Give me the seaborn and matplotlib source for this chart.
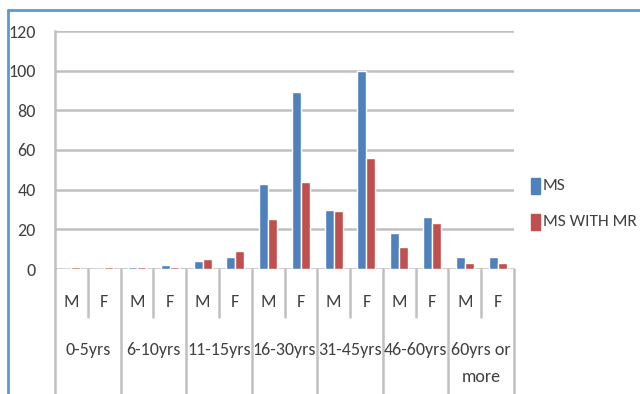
import matplotlib
matplotlib.use("Agg")
import matplotlib.pyplot as plt
from matplotlib import font_manager as fm
import seaborn as sns
import pandas as pd
from matplotlib.lines import Line2D
from matplotlib.patches import Rectangle

groups = ["0-5yrs", "6-10yrs", "11-15yrs", "16-30yrs", "31-45yrs", "46-60yrs", "60yrs or\nmore"]
sexes = ["M", "F"]
ms = [0, 0, 1, 2, 4, 6, 43, 89, 30, 100, 18, 26, 6, 6]
ms_mr = [1, 1, 1, 1, 5, 9, 25, 44, 29, 56, 11, 23, 3, 3]
series = ["MS", "MS WITH MR"]
colors = ["#4F81BD", "#C0504D"]
yticks = [0, 20, 40, 60, 80, 100, 120]

sns.set_style("white")
available = set(f.name for f in fm.fontManager.ttflist)
candidates = ["Carlito", "Liberation Sans Narrow", "Roboto Condensed", "Open Sans Condensed",
              "Arimo", "Liberation Sans"]
chosen = next((c for c in candidates if c in available), "DejaVu Sans")
plt.rcParams['font.family'] = [chosen, 'DejaVu Sans']
if chosen == "Carlito":
    FS_TICK, FS_LAB, FS_LEG = 13, 13, 12.5
else:
    FS_TICK, FS_LAB, FS_LEG = 12, 12, 11

slots = [f"{g}|{s}" for g in groups for s in sexes]
df = pd.DataFrame({
    "slot": slots * 2,
    "value": ms + ms_mr,
    "series": [series[0]] * len(slots) + [series[1]] * len(slots),
})

fig = plt.figure(figsize=(6.4, 3.94), dpi=100)
W, H = 640, 394
left, right, top, bottom = 55, 514, 31, 269
ax = fig.add_axes([left / W, 1 - bottom / H, (right - left) / W, (bottom - top) / H])

sns.barplot(data=df, x="slot", y="value", hue="series", order=slots, hue_order=series,
            palette=colors, width=0.55, saturation=1, ax=ax, legend=False, errorbar=None,
            zorder=3)

ax.set_ylim(0, 120)
ax.set_xlim(-0.5, len(slots) - 0.5)
ax.set_yticks(yticks)
ax.set_yticklabels([str(t) for t in yticks], fontsize=FS_TICK, color="#404040")
ax.yaxis.grid(True, color="#C0C0C0", linewidth=1.8, zorder=0)
ax.set_axisbelow(True)
ax.tick_params(axis="y", length=5, color="#C0C0C0", width=1.8, pad=9)
ax.set_xticks([])
ax.set_xlabel("")
ax.set_ylabel("")
for s in ["top", "right", "bottom"]:
    ax.spines[s].set_visible(False)
ax.spines["left"].set_color("#C0C0C0")
ax.spines["left"].set_linewidth(1.8)

ax_h = bottom - top
def fy(py):
    return -(py - bottom) / ax_h

trans = ax.get_xaxis_transform()
sep_color = "#C0C0C0"
for i in range(len(slots) + 1):
    xx = i - 0.5
    yb = fy(396) if i % 2 == 0 else fy(317)
    ax.add_line(Line2D([xx, xx], [0, yb], transform=trans, color=sep_color,
                       linewidth=1.8, clip_on=False))

for i, s in enumerate(slots):
    ax.text(i, fy(302), s.split("|")[1], transform=trans, ha="center", va="center",
            fontsize=FS_LAB, color="#404040")
for gi, g in enumerate(groups):
    for li, t in enumerate(g.split("\n")):
        ax.text(gi * 2 + 0.5, fy(350 + li * 27), t, transform=trans, ha="center", va="center",
                fontsize=FS_LAB, color="#404040")

for k, (name, c) in enumerate(zip(series, colors)):
    yc = [186, 222][k]
    fig.patches.append(Rectangle((531 / W, 1 - (yc + 8) / H), 9 / W, 16 / H,
                                 transform=fig.transFigure, color=c))
    fig.text(543 / W, 1 - yc / H, name, ha="left", va="center", fontsize=FS_LEG, color="#404040")

fig.add_artist(Line2D([8 / W, 8 / W], [0, 1 - 10 / H], transform=fig.transFigure,
                      color="#5B9BD5", linewidth=2))
fig.add_artist(Line2D([8 / W, 1], [1 - 10 / H, 1 - 10 / H], transform=fig.transFigure,
                      color="#5B9BD5", linewidth=2))

fig.savefig("out.png", dpi=100)
